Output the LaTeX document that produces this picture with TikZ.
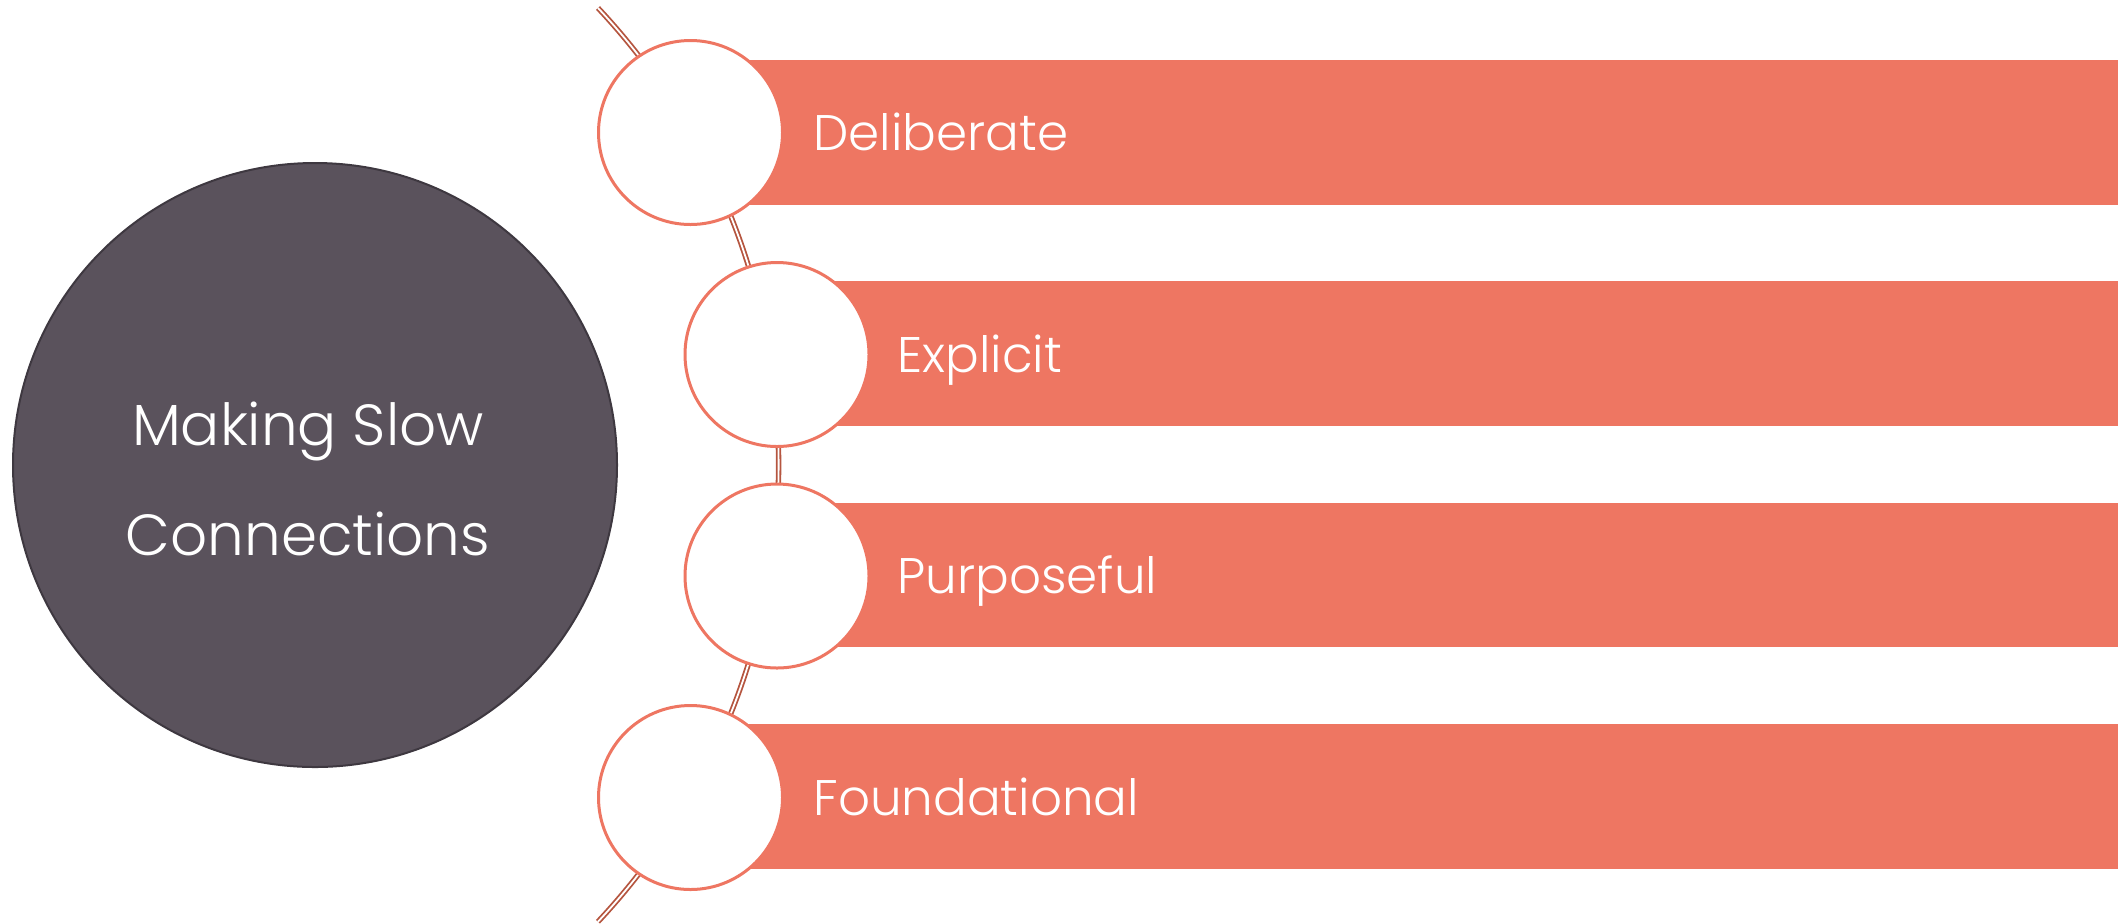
\documentclass[tikz,border=0pt]{standalone}
\usepackage{fontspec}
\setmainfont{Poppins Light}
\definecolor{barcol}{HTML}{EE7662}
\definecolor{hubfill}{HTML}{5A525C}
\definecolor{hubline}{HTML}{3E3840}
\definecolor{arccol}{HTML}{B5553F}
\tikzset{
  barbox/.style={fill=barcol, draw=none},
  dot/.style={circle, draw=barcol, fill=white, line width=1.5pt, minimum size=92pt, inner sep=0pt},
  hub/.style={circle, draw=hubline, fill=hubfill, line width=1pt, minimum size=302pt, inner sep=0pt},
  hubtext/.style={text=white, font=\fontsize{29pt}{36pt}\selectfont, anchor=base, inner sep=0pt},
  lbl/.style={anchor=base west, text=white, font=\fontsize{25pt}{30pt}\selectfont, inner sep=0pt},
  arcline/.style={draw=arccol, double=white, line width=0.9pt, double distance=0.9pt}
}
\begin{document}
\begin{tikzpicture}[x=0.5pt,y=-0.5pt]
\useasboundingbox (0,0) rectangle (2118,923);
% arc
\draw[arcline] (598,8) arc[start angle=43.15, end angle=-43.15, radius=334pt];
% bars
\fill[barbox] (690,60) rectangle (2118,205);
\fill[barbox] (777,281) rectangle (2118,426);
\fill[barbox] (777,503) rectangle (2118,647);
\fill[barbox] (690,724) rectangle (2118,869);
% circles
\node[dot] (c1) at (690.5,132.5) {};
\node[dot] (c2) at (777,354.5) {};
\node[dot] (c3) at (777,576) {};
\node[dot] (c4) at (690.5,797.5) {};
% hub
\node[hub] (hub) at (315,465) {};
\node[hubtext] (t1) at (308,445) {Making Slow};
\node[hubtext] (t2) at (308,555) {Connections};
% labels
\node[lbl] (l1) at (813,150) {Deliberate};
\node[lbl] (l2) at (897,372) {Explicit};
\node[lbl] (l3) at (897,593) {Purposeful};
\node[lbl] (l4) at (813,815) {Foundational};
\end{tikzpicture}
\end{document}
